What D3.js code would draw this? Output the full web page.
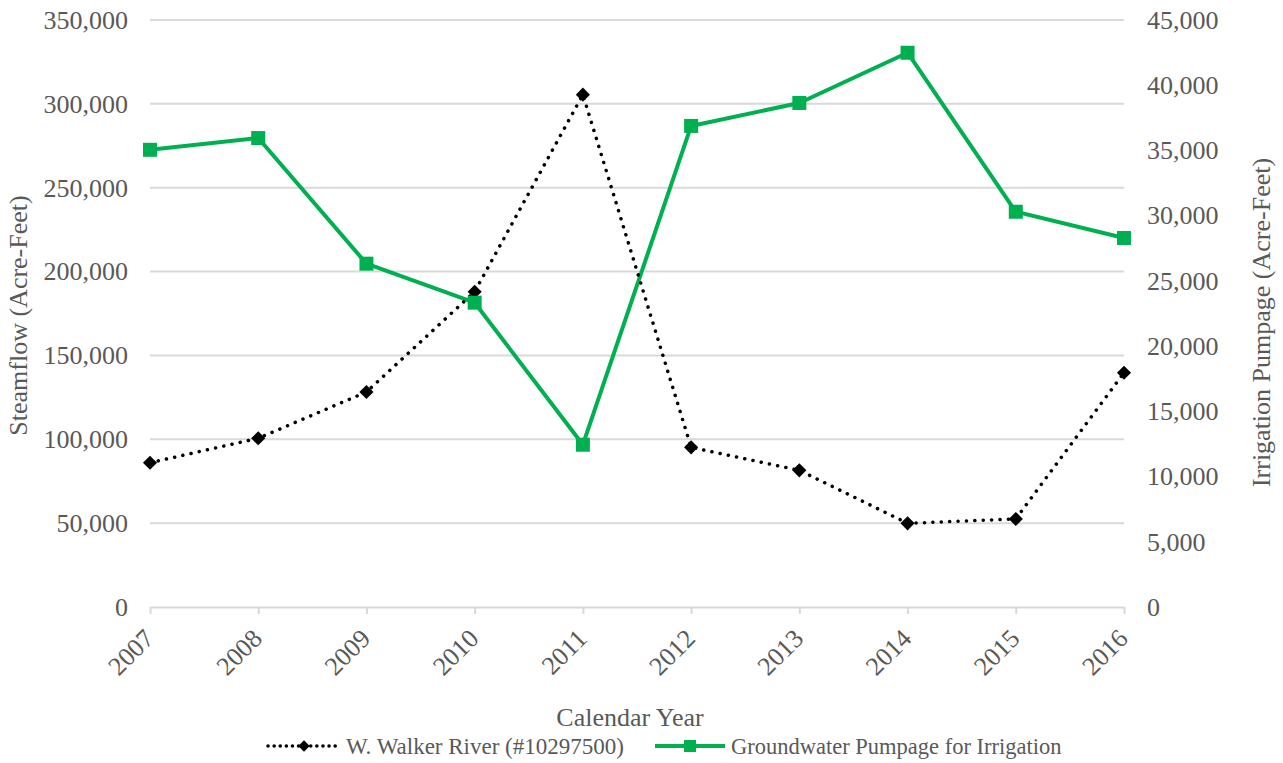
<!DOCTYPE html>
<html>
<head>
<meta charset="utf-8">
<script src="https://cdn.jsdelivr.net/npm/d3@7"></script>
<style>
  body { margin: 0; background: #fff; }
  svg { display: block; font-family: "Liberation Serif", "Times New Roman", serif; }
</style>
</head>
<body>
<svg id="chart" width="1283" height="763"></svg>
<script>
const years = ['2007', '2008', '2009', '2010', '2011', '2012', '2013', '2014', '2015', '2016']
const streamflow = [86000, 100600, 128200, 188000, 305500, 95200, 81500, 49900, 52500, 139700]
const pumpage = [35050, 35950, 26320, 23330, 12440, 36880, 38640, 42490, 30300, 28290]
const leftTicks = [0, 50000, 100000, 150000, 200000, 250000, 300000, 350000]
const rightTicks = [0, 5000, 10000, 15000, 20000, 25000, 30000, 35000, 40000, 45000]

const svg = d3.select('#chart')
const margin = { top: 20, right: 159, bottom: 156, left: 150 }
const width = 1283, height = 763
const textColor = '#595959'
const green = '#00b050'

const x = d3.scalePoint()
    .domain(years)
    .range([margin.left, width - margin.right])

const yL = d3.scaleLinear()
    .domain([0, 350000])
    .range([height - margin.bottom, margin.top])

const yR = d3.scaleLinear()
    .domain([0, 45000])
    .range([height - margin.bottom, margin.top])

const fmt = d3.format(',')

// gridlines
svg.append('g')
    .selectAll('line')
    .data(leftTicks.slice(1))
    .enter().append('line')
    .attr('x1', margin.left)
    .attr('x2', width - margin.right)
    .attr('y1', d => yL(d))
    .attr('y2', d => yL(d))
    .attr('stroke', '#d9d9d9')
    .attr('stroke-width', 2)

// left axis
const left = svg.append('g')
    .attr('transform', `translate(${margin.left},0)`)
    .call(d3.axisLeft(yL).tickValues(leftTicks).tickFormat(fmt).tickSize(0).tickPadding(22))
left.select('.domain').remove()
left.selectAll('text')
    .attr('fill', textColor)
    .style('font-size', '26px')
    .style('font-family', '"Liberation Serif", serif')

// right axis
const right = svg.append('g')
    .attr('transform', `translate(${width - margin.right},0)`)
    .call(d3.axisRight(yR).tickValues(rightTicks).tickFormat(fmt).tickSize(0).tickPadding(23))
right.select('.domain').remove()
right.selectAll('text')
    .attr('fill', textColor)
    .style('font-size', '26px')
    .style('font-family', '"Liberation Serif", serif')

// bottom axis
const bottom = svg.append('g')
    .attr('transform', `translate(0,${height - margin.bottom})`)
    .call(d3.axisBottom(x).tickSize(7).tickSizeOuter(0))
bottom.select('.domain')
    .attr('stroke', '#d9d9d9')
    .attr('stroke-width', 2)
bottom.selectAll('.tick line')
    .attr('stroke', '#d9d9d9')
    .attr('stroke-width', 2)
bottom.selectAll('text')
    .attr('fill', textColor)
    .style('font-size', '26px')
    .style('font-family', '"Liberation Serif", serif')
    .attr('text-anchor', 'end')
    .attr('y', 0)
    .attr('dy', 0)
    .attr('transform', 'translate(5,33) rotate(-45)')

// axis titles
svg.append('text')
    .attr('transform', `translate(27,${(margin.top + height - margin.bottom) / 2 + 2}) rotate(-90)`)
    .attr('text-anchor', 'middle')
    .attr('fill', textColor)
    .style('font-size', '26px')
    .text('Steamflow (Acre-Feet)')

svg.append('text')
    .attr('transform', `translate(1270,${(margin.top + height - margin.bottom) / 2 + 9}) rotate(-90)`)
    .attr('text-anchor', 'middle')
    .attr('fill', textColor)
    .style('font-size', '26px')
    .text('Irrigation Pumpage (Acre-Feet)')

svg.append('text')
    .attr('x', 630)
    .attr('y', 726)
    .attr('text-anchor', 'middle')
    .attr('fill', textColor)
    .style('font-size', '26px')
    .text('Calendar Year')

// series
const lineL = d3.line().x((d, i) => x(years[i])).y(d => yL(d))
const lineR = d3.line().x((d, i) => x(years[i])).y(d => yR(d))

svg.append('path')
    .datum(pumpage)
    .attr('d', lineR)
    .attr('fill', 'none')
    .attr('stroke', green)
    .attr('stroke-width', 4)
    .attr('stroke-linejoin', 'round')

svg.append('path')
    .datum(streamflow)
    .attr('d', lineL)
    .attr('fill', 'none')
    .attr('stroke', '#000')
    .attr('stroke-width', 3.5)
    .attr('stroke-linecap', 'round')
    .attr('stroke-dasharray', '0.1 8.3')

const diamond = d3.symbol().type(d3.symbolSquare).size(100)

svg.append('g')
    .selectAll('path')
    .data(streamflow)
    .enter().append('path')
    .attr('d', diamond)
    .attr('transform', (d, i) => `translate(${x(years[i])},${yL(d)}) rotate(45)`)
    .attr('fill', '#000')

svg.append('g')
    .selectAll('rect')
    .data(pumpage)
    .enter().append('rect')
    .attr('x', (d, i) => x(years[i]) - 7)
    .attr('y', d => yR(d) - 7)
    .attr('width', 14)
    .attr('height', 14)
    .attr('fill', green)

// legend
const legend = svg.append('g').attr('transform', 'translate(0,746)')
legend.append('line')
    .attr('x1', 268).attr('x2', 340)
    .attr('stroke', '#000')
    .attr('stroke-width', 3.5)
    .attr('stroke-linecap', 'round')
    .attr('stroke-dasharray', '0.1 6')
legend.append('path')
    .attr('d', d3.symbol().type(d3.symbolSquare).size(64))
    .attr('transform', 'translate(304,0) rotate(45)')
    .attr('fill', '#000')
legend.append('text')
    .attr('x', 346).attr('dy', '0.35em')
    .attr('fill', textColor)
    .style('font-size', '23px')
    .text('W. Walker River (#10297500)')

legend.append('line')
    .attr('x1', 655).attr('x2', 725)
    .attr('stroke', green)
    .attr('stroke-width', 4)
legend.append('rect')
    .attr('x', 684).attr('y', -6)
    .attr('width', 12).attr('height', 12)
    .attr('fill', green)
legend.append('text')
    .attr('x', 731).attr('dy', '0.35em')
    .attr('fill', textColor)
    .style('font-size', '22.5px')
    .text('Groundwater Pumpage for Irrigation')
</script>
</body>
</html>
